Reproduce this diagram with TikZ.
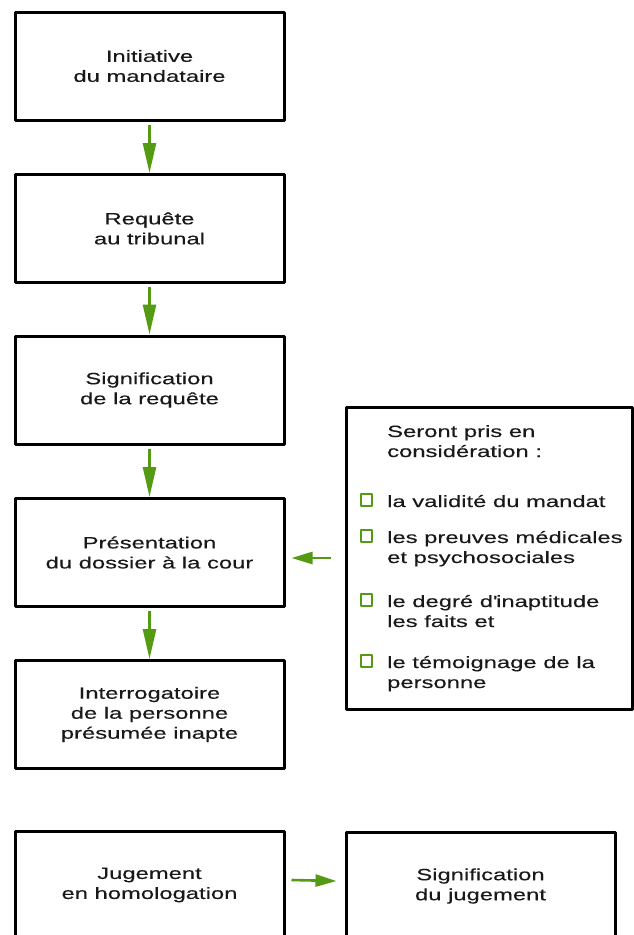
\documentclass[tikz,border=0pt]{standalone}
\usepackage{fontspec}
\setmainfont[FakeStretch=1.46,FakeBold=0.3]{Liberation Sans}
\usetikzlibrary{arrows.meta}
\definecolor{vert}{RGB}{84,154,18}
\begin{document}
\begin{tikzpicture}[x=1pt, y=-1pt, font=\fontsize{16.3}{20}\selectfont, line join=round,
	etape/.style={draw=black, line width=3pt, minimum width=269pt, minimum height=108pt, align=center, inner sep=0pt, text=black!90},
	fleche/.style={draw=vert, line width=2.6pt, -{Triangle[length=30pt,width=13pt,fill=vert]}},
	flechecourte/.style={draw=vert, line width=2.6pt, -{Triangle[length=21pt,width=12pt,fill=vert]}},
	case/.style={draw=vert, line width=2.3pt, minimum size=11.5pt, inner sep=0pt},
	ligne/.style={anchor=base west, inner sep=0pt, text=black!90}]
	\useasboundingbox (0,0) rectangle (634,935);
	\def\xg{149.5}
	% colonne de gauche
	\node[etape] (initiative) at (\xg,66) {Initiative\\du mandataire};
	\node[etape] (requete) at (\xg,228.5) {Requête\\au tribunal};
	\node[etape] (signif) at (\xg,390) {Signification\\de la requête};
	\node[etape] (presentation) at (\xg,552.5) {Présentation\\du dossier à la cour};
	\node[etape] (interro) at (\xg,714.5) {Interrogatoire\\de la personne\\présumée inapte};
	\node[etape] (jugement) at (\xg,885) {Jugement\\en homologation};
	\node[etape] (signifjug) at (480.5,886) {Signification\\du jugement};
	\foreach \a/\b in {initiative/requete, requete/signif, signif/presentation, presentation/interro}
	\draw[fleche] ([yshift=-3pt]\a.south) -- (\b.north);
	% encadre des criteres
	\node[draw=black, line width=3pt, minimum width=286pt, minimum height=302pt, inner sep=0pt] (criteres) at (489,558) {};
	\node[ligne] (titre1) at (387,437) {Seront pris en};
	\node[ligne] (titre2) at (387,457) {considération :};
	\foreach \y/\t in {507/la validité du mandat, 543/les preuves médicales, 563/et psychosociales, 607/le degré d\textquotesingle inaptitude, 627/les faits et, 668/le témoignage de la, 688/personne}
	\node[ligne] at (387,\y) {\t};
	\foreach \y in {507,543,607,668}
	\node[case] at (366.5,\y-7) {};
	\draw[flechecourte] ([xshift=-14pt]criteres.west) -- ([xshift=6pt]criteres.west -| presentation.east);
	\draw[flechecourte] ([xshift=6pt,yshift=5pt]jugement.east) -- ([xshift=-8pt,yshift=5pt]signifjug.west);
\end{tikzpicture}
\end{document}
